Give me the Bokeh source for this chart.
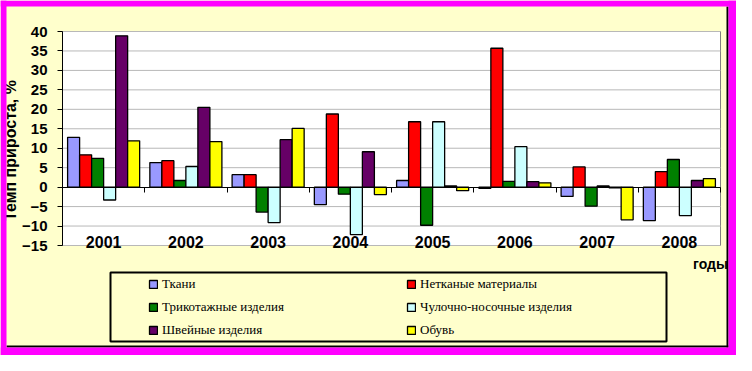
import math
from bokeh.plotting import figure
from bokeh.models import (ColumnDataSource, FixedTicker, LinearAxis, Range1d,
                          Legend, LegendItem, Label, BoxAnnotation)
from bokeh.transform import dodge
from bokeh.embed import file_html
from bokeh.resources import INLINE

# ---------------- data ----------------
years = ["2001", "2002", "2003", "2004", "2005", "2006", "2007", "2008"]
tkani = [12.8, 6.3, 3.2, -4.5, 1.7, -0.3, -2.4, -8.6]
netkanye = [8.3, 6.8, 3.2, 18.8, 16.8, 35.7, 5.2, 4.0]
trikotazh = [7.4, 1.7, -6.4, -1.8, -9.8, 1.5, -4.9, 7.1]
chulochno = [-3.3, 5.3, -9.1, -12.2, 16.8, 10.4, 0.3, -7.3]
shveinye = [38.9, 20.5, 12.2, 9.1, 0.3, 1.4, -0.2, 1.7]
obuv = [11.9, 11.7, 15.1, -1.9, -0.9, 1.1, -8.4, 2.2]

series_keys = ["tkani", "netkanye", "trikotazh", "chulochno", "shveinye", "obuv"]
series_names = ["Ткани", "Нетканые материалы", "Трикотажные изделия",
                "Чулочно-носочные изделия", "Швейные изделия", "Обувь"]
series_colors = ["#9999FF", "#FF0000", "#008000", "#CCFFFF", "#660066", "#FFFF00"]
y_ticks = [-15, -10, -5, 0, 5, 10, 15, 20, 25, 30, 35, 40]
y_min, y_max = -15, 40
y_title = "Темп прироста, %"
x_title = "годы"

# ---------------- layout constants (pixels) ----------------
W, H = 736, 355
PL, PR, PT, PB = 62, 720, 31, 245          # plot-area box inside the canvas
BG = "#FFFFCC"
MAG = "#FF00FF"
n = len(years)
xpx = (PR - PL) / n
ypx = (PB - PT) / (y_max - y_min)

p = figure(width=W, height=H,
           x_range=Range1d(-PL / xpx, n + (W - PR) / xpx),
           y_range=Range1d(y_min - (H - PB) / ypx, y_max + PT / ypx),
           output_backend="svg", toolbar_location=None,
           x_axis_location=None, y_axis_location=None,
           min_border=0, min_border_left=0, min_border_right=0,
           min_border_top=0, min_border_bottom=0,
           background_fill_color=BG, border_fill_color=BG, outline_line_color=None)
p.xgrid.visible = False
p.ygrid.visible = False

# plot area (white with grey frame)
p.add_layout(BoxAnnotation(left=0, right=n, bottom=y_min, top=y_max, level="image",
                           fill_color="white", fill_alpha=1,
                           line_color="#808080", line_alpha=1, line_width=1))
# horizontal grid lines
gy = [t for t in y_ticks if t != 0]
gsrc = ColumnDataSource(dict(y=gy, x0=[0] * len(gy), x1=[n] * len(gy)))
p.segment(x0="x0", x1="x1", y0="y", y1="y", source=gsrc, line_color="#B8B8B8",
          line_width=1, level="underlay")

src = ColumnDataSource(dict(
    x=[i + 0.5 for i in range(n)],
    tkani=tkani, netkanye=netkanye, trikotazh=trikotazh,
    chulochno=chulochno, shveinye=shveinye, obuv=obuv))

bw = 0.146
items = []
for j, (k, nm, c) in enumerate(zip(series_keys, series_names, series_colors)):
    r = p.vbar(x=dodge("x", (j - 2.5) * bw, range=p.x_range), top=k, bottom=0, width=bw,
               source=src, fill_color=c, line_color="black", line_width=1.3)
    items.append(LegendItem(label=nm, renderers=[r]))

# y axis at x = 0
yax = LinearAxis(fixed_location=0, bounds=(y_min, y_max), ticker=FixedTicker(ticks=y_ticks),
                 major_tick_out=5, major_tick_in=0, minor_tick_line_color=None,
                 axis_line_color="black", major_tick_line_color="black",
                 major_label_standoff=10, major_label_text_font="Liberation Sans",
                 major_label_text_font_style="bold", major_label_text_font_size="15px",
                 major_label_text_color="black")
p.add_layout(yax, "left")

# category axis line at zero with boundary ticks
zax = LinearAxis(fixed_location=0, bounds=(0, n), ticker=FixedTicker(ticks=list(range(1, n + 1))),
                 major_tick_out=5, major_tick_in=0, minor_tick_line_color=None,
                 axis_line_color="black", major_tick_line_color="black",
                 major_label_text_color=None, major_label_text_font_size="1px")
p.add_layout(zax, "below")

# category labels just above the bottom of the plot area
cax = LinearAxis(fixed_location=y_min, bounds=(0, n),
                 ticker=FixedTicker(ticks=[i + 0.5 for i in range(n)]),
                 major_label_overrides={i + 0.5: y for i, y in enumerate(years)},
                 axis_line_color=None, major_tick_line_color=None, minor_tick_line_color=None,
                 major_tick_out=0, major_tick_in=0, major_label_standoff=-2,
                 major_label_text_font="Liberation Sans", major_label_text_font_style="bold",
                 major_label_text_font_size="16px", major_label_text_color="black")
p.add_layout(cax, "above")

# legend
legend = Legend(items=items, location=(148, H - 338), orientation="horizontal", ncols=2,
                glyph_width=10, glyph_height=10, label_standoff=4, label_width=237,
                label_height=16, spacing=7, padding=0, margin=0,
                border_line_color=None, background_fill_alpha=0,
                label_text_font="Liberation Serif", label_text_font_size="13px",
                label_text_color="black")
p.add_layout(legend)


def sbox(l, r, b, t, color=None, fill=True, lw=0, level="annotation"):
    p.add_layout(BoxAnnotation(left=l, right=r, bottom=b, top=t, level=level,
                               left_units="screen", right_units="screen",
                               top_units="screen", bottom_units="screen",
                               fill_color=color if fill else None,
                               fill_alpha=1 if fill else 0,
                               line_color=None if fill else "black",
                               line_alpha=1, line_width=lw))


# legend frame
sbox(110, 666, H - 341, H - 272, fill=False, lw=2)

# texts
p.add_layout(Label(x=710, y=H - 263, x_units="screen", y_units="screen", text=x_title,
                   text_align="center", text_baseline="middle",
                   text_font="Liberation Sans", text_font_style="bold",
                   text_font_size="14px", text_color="black"))
p.add_layout(Label(x=9.5, y=H - 150, x_units="screen", y_units="screen", text=y_title,
                   angle=math.pi / 2, text_align="center", text_baseline="alphabetic",
                   text_font="Liberation Sans", text_font_style="bold",
                   text_font_size="16px", text_color="black"))

# outer frame: magenta border with dark shadow on right / bottom
sbox(726, 728, 8, H - 6, "black", level="overlay")
sbox(6, 728, 8, 10, "black", level="overlay")
sbox(0, 6, 0, H, MAG, level="overlay")
sbox(0, W, H - 6, H, MAG, level="overlay")
sbox(728, W, 0, H, MAG, level="overlay")
sbox(0, W, 0, 8, MAG, level="overlay")

open("out.html", "w").write(file_html(p, INLINE))
